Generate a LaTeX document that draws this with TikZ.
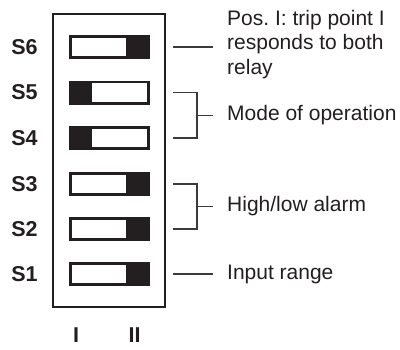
\documentclass[tikz,border=0pt]{standalone}
\usepackage{fontspec}
\setmainfont{Liberation Sans}
\definecolor{ink}{HTML}{231F20}
\definecolor{leadgray}{HTML}{3A3A3A}
\tikzset{
  switch/.style={draw=ink, line width=2.6pt, minimum width=78.4pt, minimum height=21.4pt, inner sep=0pt},
  frame/.style={draw=ink, line width=2pt, minimum width=112pt, minimum height=293pt, inner sep=0pt},
  slabel/.style={text=ink, inner sep=0pt, font=\bfseries\fontsize{21.5}{24}\selectfont},
  desc/.style={text=ink, inner sep=0pt, anchor=west, align=left, font=\fontsize{21}{24.5}\selectfont},
  lead/.style={draw=leadgray, line width=1.3pt},
}
\begin{document}
\begin{tikzpicture}[x=1pt, y=-1pt, line join=miter]
  \useasboundingbox (0,0) rectangle (400,349);
  \node[frame] (frame) at (109,160.5) {};
  % switches, 1 = lever at I, 2 = lever at II
  \foreach \n/\y/\k in {6/47/2, 5/92.5/1, 4/138/1, 3/184/2, 2/229/2, 1/274/2} {
    \node[switch] (s\n) at (109.5,\y) {};
    \ifnum\k=1
      \fill[ink] (s\n.north west) rectangle ([xshift=22.7pt]s\n.south west);
    \else
      \fill[ink] ([xshift=-23.7pt]s\n.north east) rectangle (s\n.south east);
    \fi
    \node[slabel] (l\n) at (24.5,\y) {S\n};
  }
  \node[slabel] (pos1) at (76,335.5) {I};
  \node[slabel] (pos2) at (134.5,335.5) {II};

  \node[desc] (d6) at (227,44.5) {Pos.\ I: trip point I\\responds to both\\relay};
  \node[desc] (d54) at (227,115.25) {Mode of operation};
  \node[desc] (d32) at (227,206.5) {High/low alarm};
  \node[desc] (d1) at (227,274) {Input range};

  \draw[lead] ([xshift=7pt]frame.east |- s6) -- ([xshift=-14pt]d6.west |- s6);
  \draw[lead] ([xshift=7pt]frame.east |- s1) -- ([xshift=-14pt]d1.west |- s1);
  \draw[lead] ([xshift=7pt]frame.east |- s5) -| ([xshift=-30pt]d54.west) |- ([xshift=7pt]frame.east |- s4);
  \draw[lead] ([xshift=-30pt]d54.west) -- ([xshift=-14pt]d54.west);
  \draw[lead] ([xshift=7pt]frame.east |- s3) -| ([xshift=-30pt]d32.west) |- ([xshift=7pt]frame.east |- s2);
  \draw[lead] ([xshift=-30pt]d32.west) -- ([xshift=-14pt]d32.west);
\end{tikzpicture}
\end{document}
